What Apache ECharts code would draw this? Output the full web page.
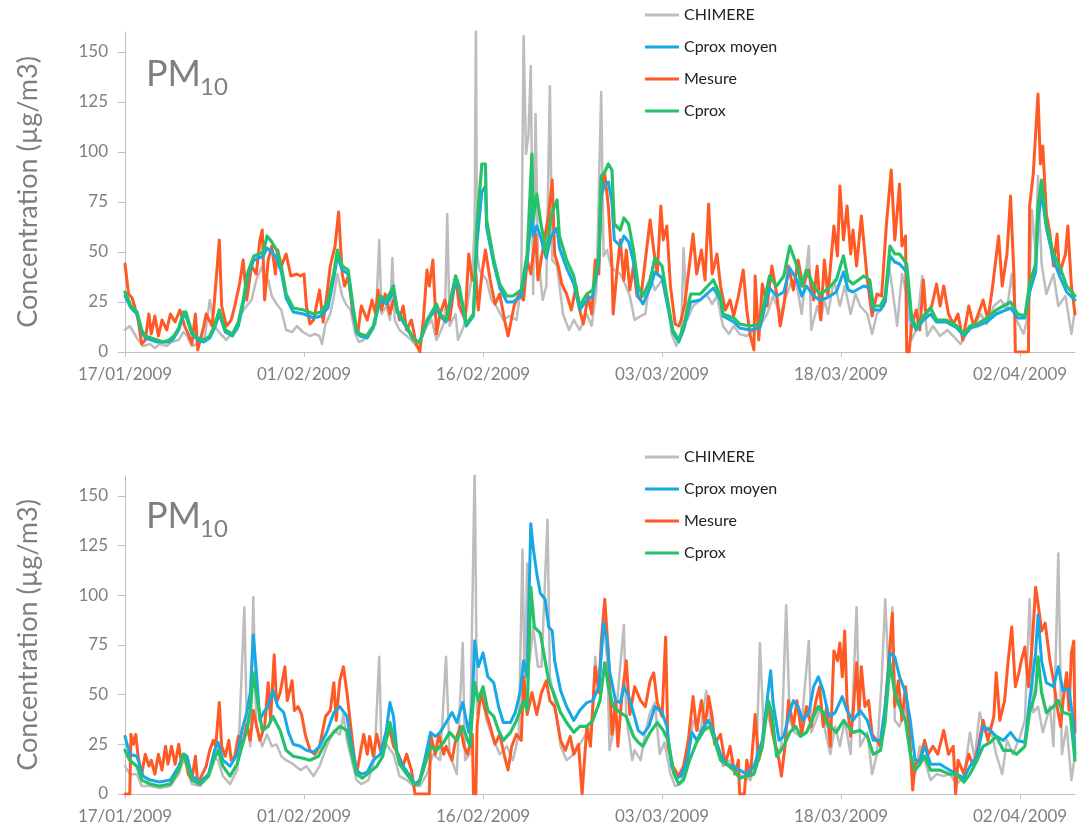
<!DOCTYPE html>
<html>
<head>
<meta charset="utf-8">
<title>PM10</title>
<script src="https://cdn.jsdelivr.net/npm/echarts@6/dist/echarts.min.js"></script>
<style>
  html, body { margin: 0; padding: 0; background: #fff; }
  #chart { width: 1078px; height: 832px; }
</style>
</head>
<body>
<div id="chart"></div>
<script>
// x = days since 17/01/2009, y = concentration (µg/m3)
const startDate = [2009, 0, 17];
const xTicks = [0, 15, 30, 45, 60, 75];
const yTicks = [0, 25, 50, 75, 100, 125, 150];
const legendNames = ['CHIMERE', 'Cprox moyen', 'Mesure', 'Cprox'];

// ---- top panel ----
const chimereTop = [[0,11],[0.4,13],[0.7,10],[1.1,6],[1.5,3],[2.1,4],[2.5,2],[2.9,4],[3.5,3],[3.9,5],[4.5,6],[4.9,10],[5.2,8],[5.6,3],[6.1,4],[6.7,8],[7.1,26],[7.5,13],[8.0,9],[8.5,6],[8.9,9],[9.4,11],[9.6,18],[10.2,23],[10.6,26],[11.0,36],[11.5,43],[11.7,34],[12.0,36],[12.3,28],[12.7,24],[13.1,21],[13.5,11],[14.0,10],[14.4,13],[14.9,10],[15.5,8],[15.9,9],[16.3,8],[16.5,4],[16.8,14],[17.2,19],[17.5,28],[17.8,39],[18.2,28],[18.5,24],[18.9,21],[19.3,9],[19.6,5],[20.0,6],[20.5,11],[21.0,14],[21.3,56],[21.5,19],[21.9,23],[22.2,16],[22.4,47],[22.6,16],[23.0,11],[23.6,8],[24.0,6],[24.4,3],[24.8,6],[25.3,13],[25.7,16],[26.1,6],[26.5,11],[26.8,16],[27.0,69],[27.2,13],[27.7,19],[27.9,6],[28.4,13],[28.8,28],[29.1,39],[29.3,63],[29.4,165],[29.5,49],[29.7,41],[30.3,36],[30.7,26],[31.1,23],[31.7,16],[32.2,18],[32.8,16],[33.2,33],[33.4,158],[33.6,99],[33.8,108],[34.0,143],[34.2,29],[34.4,119],[34.6,49],[35.0,26],[35.3,33],[35.6,133],[35.8,46],[36.2,43],[36.7,19],[37.2,11],[37.6,16],[38.1,11],[38.7,19],[39.1,13],[39.5,31],[39.9,130],[40.1,48],[40.4,51],[40.7,43],[41.0,41],[41.5,39],[41.9,34],[42.3,28],[42.7,16],[43.2,18],[43.6,19],[44.0,38],[44.4,31],[45.0,36],[45.4,28],[45.8,9],[46.2,3],[46.6,9],[46.8,52],[47.1,16],[47.6,23],[48.2,26],[48.7,29],[49.2,24],[49.6,28],[50.1,13],[50.6,9],[51.0,13],[51.5,9],[52.1,8],[52.7,11],[53.2,13],[53.8,19],[54.3,28],[54.9,19],[55.4,28],[55.9,36],[56.3,33],[56.7,19],[57.3,53],[57.5,11],[58.0,23],[58.3,16],[58.6,26],[58.9,19],[59.4,36],[59.9,23],[60.3,33],[60.8,19],[61.2,29],[61.6,23],[62.2,19],[62.6,9],[63.0,19],[63.6,23],[64.0,43],[64.2,36],[64.7,13],[65.1,39],[65.5,29],[65.9,6],[66.3,11],[66.8,38],[67.2,8],[67.7,13],[68.3,8],[68.9,11],[69.4,8],[70.0,4],[70.5,9],[71.1,13],[71.7,19],[72.2,14],[72.8,23],[73.4,26],[73.9,21],[74.3,39],[74.7,16],[75.3,9],[75.7,19],[76.0,71],[76.3,49],[76.5,88],[76.8,44],[77.2,29],[77.8,39],[78.2,23],[78.8,28],[79.3,9],[79.6,21]];

const mesureTop = [[0,44],[0.3,29],[0.6,27],[0.8,23],[1.1,16],[1.4,4],[1.7,6],[2.0,19],[2.2,9],[2.5,18],[2.8,8],[3.1,16],[3.5,11],[3.8,19],[4.2,15],[4.6,21],[5.0,13],[5.3,9],[5.6,4],[5.9,19],[6.1,1],[6.6,13],[6.8,19],[7.3,13],[7.5,26],[7.9,56],[8.1,23],[8.5,13],[8.9,16],[9.2,23],[9.6,34],[9.9,46],[10.2,26],[10.6,43],[11.0,39],[11.3,56],[11.5,61],[11.7,26],[12.0,46],[12.3,53],[12.6,39],[12.8,51],[13.1,43],[13.5,49],[13.9,38],[14.4,39],[14.7,38],[15.0,39],[15.2,23],[15.5,14],[15.8,16],[16.3,31],[16.6,15],[16.9,28],[17.2,43],[17.6,53],[17.9,70],[18.2,39],[18.4,33],[18.7,38],[19.1,19],[19.5,9],[19.8,23],[20.3,16],[20.7,26],[21.0,19],[21.2,31],[21.5,21],[21.8,29],[22.2,19],[22.6,28],[23.0,16],[23.3,23],[23.6,11],[24.0,16],[24.4,4],[24.7,0],[25.0,16],[25.3,41],[25.5,33],[25.8,46],[26.1,9],[26.4,19],[26.8,26],[27.2,16],[27.7,38],[28.0,23],[28.5,16],[28.8,49],[29.1,36],[29.4,39],[29.6,21],[29.9,39],[30.2,51],[30.6,36],[31.0,24],[31.4,29],[31.8,16],[32.1,8],[32.6,23],[33.0,29],[33.4,26],[33.7,46],[34.0,39],[34.4,59],[34.6,36],[35.0,51],[35.5,69],[35.8,86],[36.0,49],[36.3,43],[36.6,34],[37.0,29],[37.4,21],[37.8,33],[38.1,21],[38.4,14],[38.8,28],[39.1,19],[39.4,46],[39.7,39],[39.9,81],[40.2,89],[40.5,73],[40.8,43],[40.9,19],[41.2,39],[41.5,56],[41.8,36],[42.0,51],[42.3,31],[42.6,43],[42.9,28],[43.2,26],[43.6,46],[44.0,66],[44.3,51],[44.6,39],[44.9,73],[45.1,56],[45.4,63],[45.7,33],[46.1,14],[46.4,13],[46.6,16],[46.9,24],[47.2,39],[47.6,59],[47.9,39],[48.3,51],[48.6,36],[48.9,74],[49.2,39],[49.6,49],[49.9,33],[50.3,21],[50.7,26],[51.0,18],[51.4,28],[51.8,41],[52.1,21],[52.4,8],[52.7,1],[52.8,38],[53.1,6],[53.4,34],[53.8,23],[54.2,43],[54.6,29],[54.9,13],[55.2,23],[55.6,43],[56.0,31],[56.4,46],[56.8,33],[57.3,41],[57.7,26],[58.0,43],[58.3,16],[58.6,46],[58.9,28],[59.4,63],[59.7,48],[59.9,83],[60.2,56],[60.5,73],[60.8,49],[61.0,61],[61.3,43],[61.7,68],[62.2,36],[62.6,18],[63.0,29],[63.4,28],[63.8,64],[64.2,91],[64.5,56],[64.9,84],[65.1,53],[65.4,58],[65.5,0],[65.7,0],[65.9,13],[66.3,21],[66.6,11],[66.9,36],[67.1,19],[67.6,23],[68.0,34],[68.3,23],[68.6,33],[69.0,19],[69.4,14],[69.8,19],[70.2,6],[70.7,23],[71.1,13],[71.5,19],[71.9,26],[72.3,16],[72.7,33],[73.2,58],[73.5,33],[73.9,49],[74.2,78],[74.5,36],[74.6,0],[75.7,0],[75.8,73],[76.1,89],[76.4,119],[76.5,129],[76.7,94],[76.9,103],[77.2,69],[77.5,59],[77.8,43],[78.1,59],[78.3,39],[78.8,49],[79.0,63],[79.3,33],[79.6,19]];

const cproxMoyenTop = [[0,28],[0.5,22],[1,19],[1.4,10],[1.7,7],[2.2,6],[2.7,5],[3.2,5],[3.7,5],[4.1,7],[4.5,11],[4.9,18],[5.1,18],[5.6,9],[6.1,6],[6.6,5],[7.1,7],[7.5,12],[7.9,19],[8.4,10],[9.0,8],[9.5,13],[9.9,24],[10.3,38],[10.8,46],[11.6,48],[11.9,52],[12.3,50],[12.7,47],[13.1,40],[13.5,27],[14.1,20],[15.0,19],[15.8,17],[16.4,18],[17.0,22],[17.5,37],[17.8,48],[18.2,41],[18.7,39],[19.1,21],[19.4,10],[19.7,8],[20.3,7],[20.8,12],[21.4,26],[21.9,24],[22.5,30],[22.8,20],[23.6,12],[24.2,6],[24.7,5],[25.3,15],[26.1,22],[26.4,18],[26.9,15],[27.7,35],[28.0,31],[28.6,13],[29.2,18],[29.5,55],[29.9,80],[30.2,83],[30.3,62],[30.9,44],[31.4,32],[32.0,25],[32.5,25],[33.2,28],[33.7,45],[34.1,72],[34.2,58],[34.5,63],[34.8,58],[35.3,47],[35.7,58],[36.2,62],[36.4,52],[37.0,42],[37.6,34],[38.1,21],[38.7,26],[39.2,28],[39.7,45],[39.9,78],[40.2,84],[40.5,85],[40.8,75],[41.0,56],[41.5,53],[41.8,58],[42.2,55],[42.6,45],[43.0,28],[43.4,24],[44.0,32],[44.4,40],[45.0,37],[45.4,25],[45.9,10],[46.4,5],[46.8,11],[47.4,25],[48.2,26],[49.3,32],[49.9,26],[50.1,18],[51.0,15],[51.5,12],[52.4,11],[53.2,12],[54.0,32],[54.6,28],[55.2,30],[55.7,42],[56.3,36],[56.7,28],[57.1,33],[57.7,28],[58.2,26],[58.8,27],[59.6,30],[60.2,40],[60.6,31],[61.0,30],[61.9,33],[62.4,32],[62.7,21],[63.3,21],[63.7,25],[64.1,48],[64.5,45],[64.9,44],[65.5,40],[65.9,16],[66.3,11],[66.9,16],[67.5,19],[68.0,15],[68.8,15],[69.7,12],[70.3,8],[70.8,12],[71.4,13],[72.2,15],[73.0,19],[74.2,22],[74.8,17],[75.4,17],[75.8,30],[76.3,40],[76.5,65],[76.8,80],[77.2,62],[77.8,46],[78.3,38],[78.9,30],[79.6,26]];

const cproxTop = [[0,30],[0.5,23],[1,20],[1.4,11],[1.7,8],[2.2,7],[2.7,6],[3.2,5],[3.7,6],[4.1,8],[4.5,12],[4.9,20],[5.1,20],[5.6,10],[6.1,7],[6.6,6],[7.1,8],[7.5,13],[7.9,21],[8.4,11],[9.0,9],[9.5,15],[9.9,26],[10.3,40],[10.8,48],[11.6,50],[11.9,58],[12.3,55],[12.7,51],[13.1,43],[13.5,29],[14.1,22],[15.0,21],[15.8,19],[16.4,20],[17.0,25],[17.5,40],[17.8,51],[18.2,43],[18.7,41],[19.1,23],[19.4,11],[19.7,9],[20.3,8],[20.8,13],[21.4,28],[21.9,26],[22.5,33],[22.8,21],[23.6,13],[24.2,6],[24.7,5],[25.3,16],[26.1,24],[26.4,19],[26.9,16],[27.7,38],[28.0,33],[28.6,14],[29.2,19],[29.5,64],[29.9,94],[30.2,94],[30.3,66],[30.9,46],[31.4,34],[32.0,28],[32.5,28],[33.2,31],[33.7,49],[34.1,99],[34.2,66],[34.5,79],[34.8,66],[35.3,49],[35.7,68],[36.2,76],[36.4,58],[37.0,46],[37.6,38],[38.1,23],[38.7,29],[39.2,31],[39.7,48],[39.9,88],[40.2,90],[40.5,94],[40.8,91],[41.0,64],[41.5,61],[41.8,67],[42.2,64],[42.6,51],[43.0,33],[43.4,28],[44.0,36],[44.4,47],[45.0,43],[45.4,28],[45.9,11],[46.4,6],[46.8,13],[47.4,29],[48.2,29],[49.3,36],[49.9,28],[50.1,19],[51.0,17],[51.5,14],[52.4,13],[53.2,14],[54.0,38],[54.6,33],[55.2,38],[55.7,53],[56.3,43],[56.7,33],[57.1,41],[57.7,33],[58.2,29],[58.8,31],[59.6,36],[60.2,48],[60.6,36],[61.0,34],[61.9,38],[62.4,36],[62.7,23],[63.3,23],[63.7,28],[64.1,53],[64.5,49],[64.9,49],[65.5,44],[65.9,18],[66.3,12],[66.9,18],[67.5,22],[68.0,16],[68.8,16],[69.7,13],[70.3,9],[70.8,13],[71.4,14],[72.2,17],[73.0,21],[74.2,25],[74.8,19],[75.4,18],[75.8,34],[76.3,44],[76.5,73],[76.8,86],[77.2,64],[77.8,49],[78.3,43],[78.9,33],[79.6,28]];

// ---- bottom panel ----
const chimereBottom = [[0,14],[0.4,10],[1.0,10],[1.4,4],[2.1,4],[2.9,3],[3.8,4],[4.5,10],[4.9,17],[5.2,14],[5.6,5],[6.3,4],[7.0,9],[7.4,19],[7.8,17],[8.2,9],[8.8,5],[9.4,12],[9.6,35],[10.0,94],[10.2,37],[10.5,24],[10.75,99],[11.0,34],[11.5,24],[11.9,30],[12.3,24],[12.7,25],[13.1,19],[13.5,17],[14.1,15],[14.7,12],[15.2,14],[15.8,9],[16.3,14],[16.9,24],[17.5,32],[18.0,30],[18.3,40],[18.6,27],[19.0,17],[19.4,7],[19.8,5],[20.4,7],[20.9,17],[21.3,69],[21.5,20],[21.9,25],[22.5,20],[23.0,9],[23.6,7],[24.2,4],[24.7,4],[25.3,10],[25.8,20],[26.4,17],[26.9,69],[27.2,20],[27.8,10],[28.3,76],[28.5,17],[28.9,20],[29.3,165],[29.5,40],[29.9,51],[30.3,37],[30.9,27],[31.4,20],[32.0,24],[32.5,17],[33.0,30],[33.3,123],[33.5,51],[33.7,116],[33.9,67],[34.2,84],[34.6,64],[34.9,64],[35.4,138],[35.6,59],[36.0,47],[36.5,24],[37.0,17],[37.6,20],[38.1,25],[38.7,31],[39.1,34],[39.4,69],[39.7,51],[40.1,86],[40.4,67],[40.6,22],[41.1,37],[41.3,51],[41.8,85],[42.0,39],[42.5,17],[42.7,22],[43.2,17],[43.6,31],[44.0,41],[44.4,46],[44.8,20],[45.2,26],[45.7,10],[46.1,4],[46.5,5],[47.1,14],[47.6,37],[48.2,31],[48.7,52],[49.2,31],[49.6,24],[50.1,14],[50.7,17],[51.3,10],[51.8,9],[52.4,7],[52.9,17],[53.2,76],[53.5,34],[53.8,42],[54.2,31],[54.6,20],[55.0,24],[55.4,95],[55.7,37],[56.1,31],[56.6,29],[57.3,77],[57.5,31],[57.9,37],[58.3,44],[58.7,31],[59.1,20],[59.5,34],[59.9,24],[60.3,37],[60.8,20],[61.3,94],[61.6,24],[62.2,31],[62.6,10],[63.0,20],[63.4,57],[63.7,98],[64.0,57],[64.3,94],[64.5,37],[64.9,34],[65.4,44],[65.8,20],[66.2,10],[66.6,24],[67.0,17],[67.5,7],[68.0,10],[68.6,9],[69.1,10],[69.7,5],[70.3,9],[70.8,31],[71.2,17],[71.6,41],[72.1,31],[72.5,34],[73.0,20],[73.5,10],[73.9,27],[74.4,20],[75.0,29],[75.4,37],[75.8,98],[76.1,41],[76.5,44],[76.9,31],[77.5,44],[77.8,24],[78.2,121],[78.5,20],[78.9,34],[79.3,7],[79.6,20]];

const mesureBottom = [[0,0],[0.4,0],[0.5,30],[0.7,25],[0.9,30],[1.1,19],[1.4,10],[1.7,20],[2.0,14],[2.2,17],[2.5,10],[2.8,20],[3.1,12],[3.4,24],[3.6,15],[3.9,24],[4.2,15],[4.5,25],[4.7,17],[5.0,20],[5.3,10],[5.6,7],[5.9,19],[6.1,5],[6.4,9],[6.8,14],[7.1,22],[7.4,27],[7.6,24],[7.9,46],[8.1,24],[8.4,19],[8.7,27],[8.9,17],[9.2,19],[9.5,29],[9.8,24],[10.2,35],[10.5,27],[10.75,42],[11.0,35],[11.3,27],[11.7,34],[12.0,56],[12.2,37],[12.5,70],[12.7,46],[13.0,51],[13.4,64],[13.6,47],[14.0,57],[14.2,42],[14.5,44],[14.8,40],[15.1,30],[15.5,22],[15.9,20],[16.3,24],[16.8,39],[17.2,42],[17.5,56],[17.7,37],[18.0,57],[18.3,64],[18.6,51],[18.8,40],[19.1,24],[19.4,10],[19.7,20],[20.0,30],[20.3,20],[20.5,29],[20.8,19],[21.1,30],[21.4,22],[21.8,27],[22.2,32],[22.5,24],[22.9,20],[23.3,14],[23.6,20],[24.0,12],[24.3,0],[25.5,0],[25.6,30],[26.0,20],[26.3,30],[26.7,20],[26.9,24],[27.4,17],[27.7,27],[28.1,34],[28.4,24],[28.7,20],[29.1,30],[29.2,0],[29.4,0],[29.5,34],[29.8,51],[30.2,42],[30.6,34],[31.0,25],[31.4,30],[31.8,19],[32.1,12],[32.4,24],[32.8,30],[33.2,27],[33.4,59],[33.7,40],[34.1,51],[34.5,40],[34.9,51],[35.3,57],[35.6,47],[36.0,44],[36.5,27],[36.9,22],[37.3,29],[37.6,20],[38.0,25],[38.3,0],[38.4,0],[38.7,34],[39.0,24],[39.4,64],[39.7,51],[39.9,76],[40.2,98],[40.5,71],[40.8,30],[41.1,46],[41.3,24],[41.6,47],[42.0,67],[42.3,40],[42.7,54],[43.2,47],[43.6,44],[44.0,57],[44.3,61],[44.6,46],[45.0,39],[45.3,79],[45.5,24],[45.9,14],[46.4,9],[46.8,14],[47.2,27],[47.6,49],[47.9,32],[48.3,47],[48.6,34],[48.9,49],[49.2,39],[49.4,25],[49.9,30],[50.3,15],[50.7,24],[51.1,10],[51.4,17],[51.5,0],[51.9,0],[52.1,17],[52.4,9],[52.8,40],[53.1,17],[53.4,24],[53.6,37],[53.9,46],[54.3,30],[54.8,17],[55.0,9],[55.3,24],[55.6,47],[56.0,34],[56.3,47],[56.7,30],[57.1,44],[57.5,34],[57.9,47],[58.2,54],[58.5,34],[58.8,44],[59.1,24],[59.4,72],[59.7,67],[59.9,76],[60.1,59],[60.3,82],[60.5,46],[60.8,29],[61.0,40],[61.3,66],[61.5,40],[61.7,64],[62.0,44],[62.3,47],[62.6,30],[63.0,27],[63.3,24],[63.6,37],[64.0,67],[64.3,91],[64.5,44],[64.8,57],[65.1,37],[65.4,54],[65.7,34],[66.0,2],[66.2,15],[66.6,17],[67.0,27],[67.3,20],[67.7,24],[68.1,20],[68.6,32],[69.0,20],[69.4,24],[69.6,0],[69.8,17],[70.3,10],[70.7,20],[71.1,14],[71.5,24],[71.9,37],[72.3,27],[72.8,39],[73.0,61],[73.3,37],[73.7,47],[74.0,67],[74.3,84],[74.6,54],[74.9,61],[75.1,67],[75.4,74],[75.7,54],[76.0,74],[76.3,104],[76.5,96],[76.8,82],[77.1,86],[77.5,67],[77.8,57],[78.1,44],[78.4,34],[78.6,47],[78.9,61],[79.1,42],[79.3,71],[79.5,77],[79.6,31]];

const cproxMoyenBottom = [[0,29],[0.4,20],[1.0,19],[1.5,9],[2.1,7],[2.9,6],[3.8,7],[4.5,14],[4.9,20],[5.2,19],[5.6,9],[6.3,6],[7.0,10],[7.5,22],[7.8,26],[8.2,17],[8.8,14],[9.4,20],[9.8,32],[10.2,41],[10.5,51],[10.75,80],[11.0,62],[11.3,37],[11.6,41],[12.0,44],[12.4,52],[12.8,44],[13.3,41],[13.7,31],[14.1,25],[14.7,24],[15.2,22],[15.8,21],[16.3,24],[16.9,31],[17.5,41],[18.0,44],[18.6,39],[19.0,24],[19.4,12],[19.8,10],[20.3,11],[20.8,17],[21.4,20],[21.9,32],[22.2,46],[22.5,39],[22.8,20],[23.3,14],[23.9,9],[24.3,5],[24.7,7],[25.1,17],[25.6,31],[26.0,29],[26.4,31],[26.9,36],[27.4,41],[27.8,36],[28.3,46],[28.8,31],[29.1,46],[29.3,77],[29.6,64],[30.0,71],[30.4,59],[30.9,56],[31.3,44],[31.7,36],[32.3,36],[32.7,41],[33.1,51],[33.4,67],[33.7,59],[34.0,136],[34.2,124],[34.5,111],[34.8,101],[35.2,98],[35.5,84],[35.8,82],[36.0,67],[36.5,52],[37.0,44],[37.6,37],[38.1,42],[38.7,46],[39.2,47],[39.7,54],[40.1,86],[40.4,77],[40.6,62],[41.1,47],[41.5,46],[41.8,54],[42.2,49],[42.6,41],[43.0,32],[43.4,30],[43.9,34],[44.4,44],[45.0,41],[45.4,34],[45.8,14],[46.2,8],[46.6,9],[47.1,17],[47.5,31],[47.9,27],[48.5,34],[48.9,37],[49.3,31],[49.9,20],[50.4,15],[51.0,14],[51.5,12],[52.1,10],[52.7,14],[53.4,27],[53.8,47],[54.1,62],[54.3,46],[54.8,27],[55.2,29],[55.6,39],[56.0,47],[56.4,44],[56.8,37],[57.3,41],[57.7,54],[58.1,59],[58.5,52],[58.9,41],[59.1,39],[59.5,41],[60.1,49],[60.5,42],[61.0,37],[61.6,42],[62.2,37],[62.7,27],[63.3,27],[63.7,44],[64.1,71],[64.5,69],[64.9,59],[65.4,51],[65.8,37],[66.2,17],[66.6,17],[67.0,24],[67.5,15],[68.3,15],[69.1,12],[69.7,10],[70.3,8],[70.8,14],[71.4,19],[71.9,34],[72.5,32],[73.0,29],[73.6,27],[74.2,31],[74.7,27],[75.4,26],[75.8,47],[76.3,71],[76.5,90],[76.8,67],[77.2,56],[77.8,54],[78.2,64],[78.6,52],[79.1,53],[79.5,34],[79.6,20]];

const cproxBottom = [[0,22],[0.4,17],[1.0,14],[1.4,7],[2.1,5],[2.9,4],[3.8,5],[4.5,12],[4.9,20],[5.2,15],[5.6,7],[6.3,5],[7.0,9],[7.5,18],[7.8,22],[8.2,14],[8.8,9],[9.4,15],[9.8,24],[10.2,32],[10.5,42],[10.75,61],[11.0,51],[11.5,32],[12.0,34],[12.4,39],[13.0,32],[13.5,22],[14.1,19],[14.9,18],[15.5,17],[16.2,19],[16.9,27],[17.5,31],[18.0,34],[18.6,32],[19.0,20],[19.4,10],[19.9,8],[20.5,11],[21.1,14],[21.6,19],[22.2,36],[22.6,26],[23.0,15],[23.6,10],[24.2,5],[24.6,5],[25.0,12],[25.6,24],[26.1,22],[26.7,26],[27.2,31],[27.8,27],[28.3,34],[28.9,24],[29.3,56],[29.6,47],[30.0,54],[30.4,42],[30.9,39],[31.3,32],[31.7,27],[32.3,31],[32.8,37],[33.4,47],[33.7,42],[34.0,104],[34.3,84],[34.8,81],[35.2,67],[35.5,57],[35.9,51],[36.5,41],[37.0,36],[37.6,31],[38.1,34],[38.7,34],[39.2,37],[39.8,47],[40.2,66],[40.5,54],[40.9,44],[41.5,41],[42.0,39],[42.6,29],[43.0,26],[43.4,24],[44.0,31],[44.6,36],[45.1,32],[45.5,27],[46.0,10],[46.4,5],[46.8,7],[47.3,17],[47.9,26],[48.5,32],[49.0,34],[49.4,27],[49.9,17],[50.4,15],[51.0,12],[51.5,8],[52.1,9],[52.7,10],[53.4,24],[53.9,47],[54.2,41],[54.6,19],[55.2,24],[55.7,31],[56.2,34],[56.6,29],[57.1,31],[57.7,39],[58.1,44],[58.5,41],[58.9,34],[59.1,34],[59.6,31],[60.2,37],[60.6,34],[61.0,31],[61.6,32],[62.2,29],[62.7,20],[63.3,22],[63.7,37],[64.1,66],[64.5,51],[64.9,44],[65.4,37],[65.8,20],[66.2,12],[66.6,15],[67.0,19],[67.5,12],[68.3,12],[69.1,10],[69.7,10],[70.3,6],[70.8,10],[71.4,17],[71.9,24],[72.5,26],[73.0,29],[73.6,22],[74.2,22],[74.7,20],[75.4,24],[75.8,41],[76.3,51],[76.5,69],[76.8,51],[77.2,41],[77.8,44],[78.2,47],[78.6,41],[79.2,40],[79.6,17]];

const colors = {
  'CHIMERE': '#bdbdbd',
  'Cprox moyen': '#17a8e6',
  'Mesure': '#ff5a26',
  'Cprox': '#25c26a'
};
const textGrey = '#7f7f7f';
const axisGrey = '#bfbfbf';
const font = 'Lato, "Open Sans", sans-serif';

function fmtDate (v) {
  const d = new Date(startDate[0], startDate[1], startDate[2] + v);
  const p = n => (n < 10 ? '0' : '') + n;
  return p(d.getDate()) + '/' + p(d.getMonth() + 1) + '/' + d.getFullYear();
}

function xAxisFor (gridIndex) {
  return {
    type: 'value',
    gridIndex: gridIndex,
    min: 0,
    max: 79.6,
    splitLine: { show: false },
    axisLine: { lineStyle: { color: axisGrey } },
    axisTick: { customValues: xTicks, length: 5, lineStyle: { color: axisGrey } },
    axisLabel: {
      customValues: xTicks,
      formatter: fmtDate,
      color: textGrey, fontSize: 17, fontFamily: font, margin: 14
    }
  };
}

function yAxisFor (gridIndex) {
  return {
    type: 'value',
    gridIndex: gridIndex,
    min: 0,
    max: 160,
    name: 'Concentration (µg/m3)',
    nameLocation: 'middle',
    nameGap: 83,
    nameTextStyle: { color: textGrey, fontSize: 27, fontFamily: font },
    splitLine: { show: false },
    axisLine: { show: true, lineStyle: { color: axisGrey } },
    axisTick: { show: true, customValues: yTicks, length: 7, lineStyle: { color: axisGrey } },
    axisLabel: { customValues: yTicks, color: textGrey, fontSize: 17, fontFamily: font, margin: 17 }
  };
}

function lineSeries (name, data, idx, width) {
  return {
    name: name,
    type: 'line',
    xAxisIndex: idx,
    yAxisIndex: idx,
    data: data,
    showSymbol: false,
    symbol: 'none',
    color: colors[name],
    lineStyle: { width: width, color: colors[name], join: 'round', cap: 'round' },
    clip: true
  };
}

function legendFor (top) {
  return {
    orient: 'vertical',
    left: 640,
    top: top,
    data: legendNames,
    icon: 'rect',
    itemWidth: 34,
    itemHeight: 3,
    itemGap: 14,
    selectedMode: false,
    textStyle: { color: '#222', fontSize: 16, fontFamily: font, lineHeight: 18 }
  };
}

function pmLabel (topOffset) {
  return [
    { type: 'text', left: 146, top: topOffset, style: { text: 'PM', fill: textGrey, font: '36px ' + font } },
    { type: 'text', left: 200, top: topOffset + 19, style: { text: '10', fill: textGrey, font: '24px ' + font } }
  ];
}

const chart = echarts.init(document.getElementById('chart'));
chart.setOption({
  animation: false,
  backgroundColor: '#fff',
  grid: [
    { left: 125, top: 32, width: 950, height: 320 },
    { left: 125, top: 476, width: 950, height: 318 }
  ],
  legend: [legendFor(1), legendFor(443)],
  graphic: pmLabel(56).concat(pmLabel(498)),
  xAxis: [xAxisFor(0), xAxisFor(1)],
  yAxis: [yAxisFor(0), yAxisFor(1)],
  series: [
    lineSeries('CHIMERE', chimereTop, 0, 2.5),
    lineSeries('Mesure', mesureTop, 0, 3),
    lineSeries('Cprox moyen', cproxMoyenTop, 0, 3),
    lineSeries('Cprox', cproxTop, 0, 3.2),
    lineSeries('CHIMERE', chimereBottom, 1, 2.5),
    lineSeries('Mesure', mesureBottom, 1, 3),
    lineSeries('Cprox moyen', cproxMoyenBottom, 1, 3),
    lineSeries('Cprox', cproxBottom, 1, 3.2)
  ]
});
</script>
</body>
</html>
